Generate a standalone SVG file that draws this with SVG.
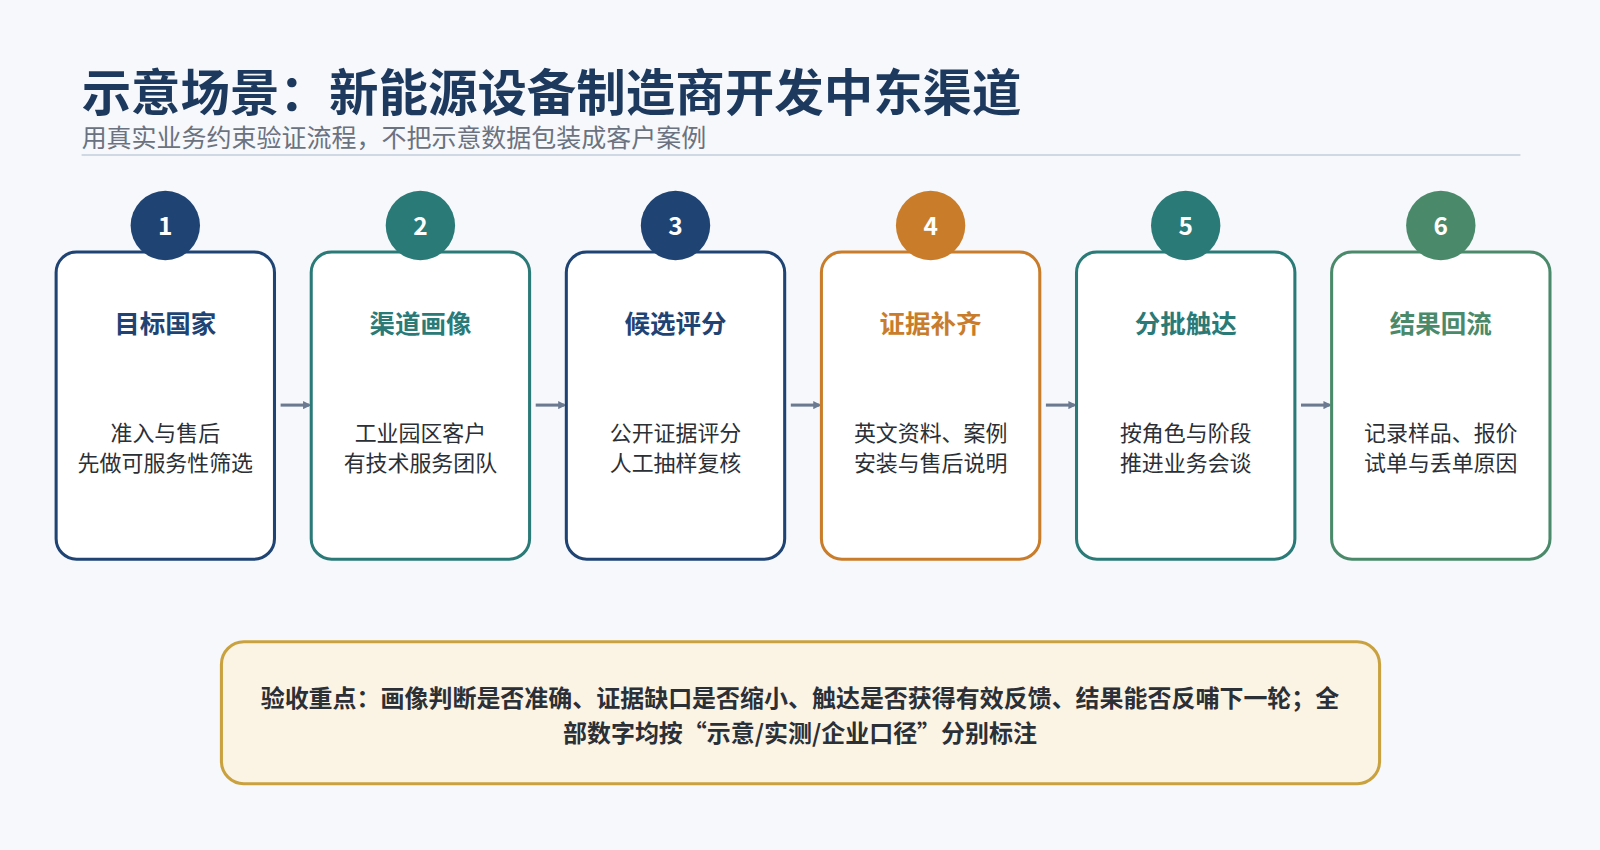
<svg xmlns="http://www.w3.org/2000/svg" width="1600" height="850" viewBox="0 0 1600 850">
<style>
text{font-family:"Noto Sans CJK SC","Noto Sans",sans-serif}
.box{fill:#fff;stroke-width:3}
.num{fill:#fff;font-size:24px;font-weight:bold;text-anchor:middle}
.ttl{font-size:25px;font-weight:bold;text-anchor:middle}
.body{font-size:21.5px;fill:#2b2f36;text-anchor:middle}
.conn{stroke:#6b7a90;stroke-width:3;fill:none}
</style>
<defs><marker id="ah" markerWidth="8" markerHeight="8" refX="6" refY="4" orient="auto" markerUnits="userSpaceOnUse"><path d="M0,0 L8,4 L0,8 Z" fill="#6b7a90"/></marker></defs>
<rect width="1600" height="850" fill="#f6f8fb"/>
<g transform="scale(1.0204)">
<text x="80" y="109" font-size="48.5" font-weight="bold" fill="#1d3a5e">示意场景：新能源设备制造商开发中东渠道</text>
<text x="80" y="144" font-size="24.5" fill="#6b7280">用真实业务约束验证流程，不把示意数据包装成客户案例</text>
<line x1="80" y1="152" x2="1490" y2="152" stroke="#cfd8e3" stroke-width="2"/>
<g id="connectors">
<line class="conn" x1="275" y1="397" x2="303" y2="397" marker-end="url(#ah)"/>
<line class="conn" x1="525" y1="397" x2="553" y2="397" marker-end="url(#ah)"/>
<line class="conn" x1="775" y1="397" x2="803" y2="397" marker-end="url(#ah)"/>
<line class="conn" x1="1025" y1="397" x2="1053" y2="397" marker-end="url(#ah)"/>
<line class="conn" x1="1275" y1="397" x2="1303" y2="397" marker-end="url(#ah)"/>
</g>
<g id="n1"><rect class="box" x="55" y="247" width="214" height="301" rx="20" stroke="#1f4474"/><circle cx="162" cy="221" r="34" fill="#1f4474"/><text class="num" x="162" y="230">1</text><text class="ttl" x="162" y="326" fill="#1f4474">目标国家</text><text class="body" x="162" y="432">准入与售后</text><text class="body" x="162" y="462">先做可服务性筛选</text></g>
<g id="n2"><rect class="box" x="305" y="247" width="214" height="301" rx="20" stroke="#2a7a78"/><circle cx="412" cy="221" r="34" fill="#2a7a78"/><text class="num" x="412" y="230">2</text><text class="ttl" x="412" y="326" fill="#2a7a78">渠道画像</text><text class="body" x="412" y="432">工业园区客户</text><text class="body" x="412" y="462">有技术服务团队</text></g>
<g id="n3"><rect class="box" x="555" y="247" width="214" height="301" rx="20" stroke="#1f4474"/><circle cx="662" cy="221" r="34" fill="#1f4474"/><text class="num" x="662" y="230">3</text><text class="ttl" x="662" y="326" fill="#1f4474">候选评分</text><text class="body" x="662" y="432">公开证据评分</text><text class="body" x="662" y="462">人工抽样复核</text></g>
<g id="n4"><rect class="box" x="805" y="247" width="214" height="301" rx="20" stroke="#c97d2a"/><circle cx="912" cy="221" r="34" fill="#c97d2a"/><text class="num" x="912" y="230">4</text><text class="ttl" x="912" y="326" fill="#c97d2a">证据补齐</text><text class="body" x="912" y="432">英文资料、案例</text><text class="body" x="912" y="462">安装与售后说明</text></g>
<g id="n5"><rect class="box" x="1055" y="247" width="214" height="301" rx="20" stroke="#2a7a78"/><circle cx="1162" cy="221" r="34" fill="#2a7a78"/><text class="num" x="1162" y="230">5</text><text class="ttl" x="1162" y="326" fill="#2a7a78">分批触达</text><text class="body" x="1162" y="432">按角色与阶段</text><text class="body" x="1162" y="462">推进业务会谈</text></g>
<g id="n6"><rect class="box" x="1305" y="247" width="214" height="301" rx="20" stroke="#4a8a6a"/><circle cx="1412" cy="221" r="34" fill="#4a8a6a"/><text class="num" x="1412" y="230">6</text><text class="ttl" x="1412" y="326" fill="#4a8a6a">结果回流</text><text class="body" x="1412" y="432">记录样品、报价</text><text class="body" x="1412" y="462">试单与丢单原因</text></g>
<g id="note"><rect x="217" y="629" width="1135" height="139" rx="22" fill="#fbf3e4" stroke="#c9a23f" stroke-width="3"/>
<text x="784" y="693" font-size="23.5" font-weight="bold" fill="#2b2f36" text-anchor="middle">验收重点：画像判断是否准确、证据缺口是否缩小、触达是否获得有效反馈、结果能否反哺下一轮；全</text>
<text x="784" y="727" font-size="23.5" font-weight="bold" fill="#2b2f36" text-anchor="middle">部数字均按“示意/实测/企业口径”分别标注</text></g>
</g>
</svg>
